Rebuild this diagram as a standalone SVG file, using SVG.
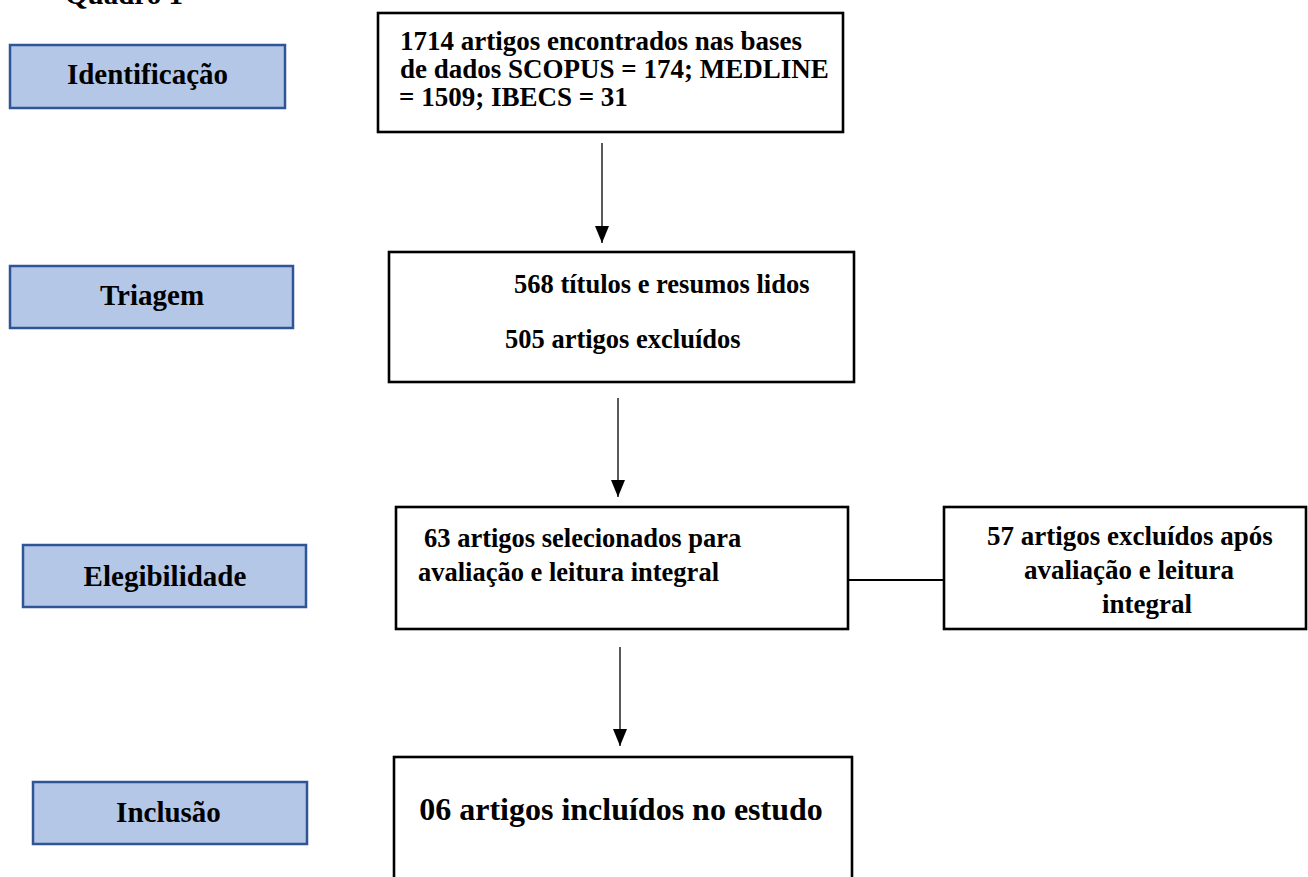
<svg xmlns="http://www.w3.org/2000/svg" width="1308" height="877" viewBox="0 0 1308 877">
<style>
  .lbl rect { fill: #B4C7E7; stroke: #2F5597; stroke-width: 2.5; }
  .box rect { fill: #FFFFFF; stroke: #000000; stroke-width: 2.6; }
  text { font-family: "Liberation Serif", "Times New Roman", serif; font-weight: bold; fill: #000000; }
  .lt { font-size: 29px; text-anchor: middle; }
  .bt { font-size: 26.5px; }
  .conn line { stroke: #000000; }
</style>
<defs>
  <marker id="arrow" markerUnits="userSpaceOnUse" markerWidth="17" markerHeight="14" refX="17" refY="7" orient="auto">
    <path d="M0,0 L17,7 L0,14 z" fill="#000000"/>
  </marker>
</defs>
<rect x="0" y="0" width="1308" height="877" fill="#FFFFFF"/>
<text x="65" y="4" style="font-size:29px">Quadro 1</text>

<g id="lbl-identificacao" class="lbl">
  <rect x="10" y="45" width="275" height="63"/>
  <text class="lt" x="147.5" y="84">Identificação</text>
</g>
<g id="lbl-triagem" class="lbl">
  <rect x="10" y="266" width="283" height="62"/>
  <text class="lt" x="152" y="305">Triagem</text>
</g>
<g id="lbl-elegibilidade" class="lbl">
  <rect x="23" y="545" width="283" height="62"/>
  <text class="lt" x="165" y="586">Elegibilidade</text>
</g>
<g id="lbl-inclusao" class="lbl">
  <rect x="33" y="782" width="274" height="62"/>
  <text class="lt" x="168.5" y="822">Inclusão</text>
</g>

<g id="box-identificacao" class="box">
  <rect x="378" y="13" width="465" height="119"/>
  <text class="bt" style="font-size:27px" x="400" y="50">1714 artigos encontrados nas bases</text>
  <text class="bt" style="font-size:27px" x="400" y="78">de dados SCOPUS = 174; MEDLINE</text>
  <text class="bt" style="font-size:27px" x="399" y="106">= 1509; IBECS = 31</text>
</g>
<g id="box-triagem" class="box">
  <rect x="389" y="252" width="465" height="130"/>
  <text class="bt" x="514" y="293">568 títulos e resumos lidos</text>
  <text class="bt" x="505" y="348">505 artigos excluídos</text>
</g>
<g id="box-elegibilidade" class="box">
  <rect x="396" y="507" width="452" height="122"/>
  <text class="bt" x="424" y="547">63 artigos selecionados para</text>
  <text class="bt" x="418" y="581">avaliação e leitura integral</text>
</g>
<g id="box-excluidos" class="box">
  <rect x="944" y="507" width="362" height="122"/>
  <text class="bt" style="font-size:27px;text-anchor:middle" x="1130" y="545">57 artigos excluídos após</text>
  <text class="bt" style="font-size:27px;text-anchor:middle" x="1129" y="579">avaliação e leitura</text>
  <text class="bt" style="font-size:27px;text-anchor:middle" x="1147" y="613">integral</text>
</g>
<g id="box-inclusao" class="box">
  <rect x="394" y="757" width="458" height="140"/>
  <text class="bt" style="font-size:32px;text-anchor:middle" x="621" y="820">06 artigos incluídos no estudo</text>
</g>

<g id="connectors" class="conn">
  <line x1="602" y1="143" x2="602" y2="243" stroke-width="1.3" marker-end="url(#arrow)"/>
  <line x1="618" y1="398" x2="618" y2="497" stroke-width="1.3" marker-end="url(#arrow)"/>
  <line x1="620" y1="647" x2="620" y2="746" stroke-width="1.3" marker-end="url(#arrow)"/>
  <line x1="848" y1="580" x2="944" y2="580" stroke-width="2"/>
</g>
</svg>
